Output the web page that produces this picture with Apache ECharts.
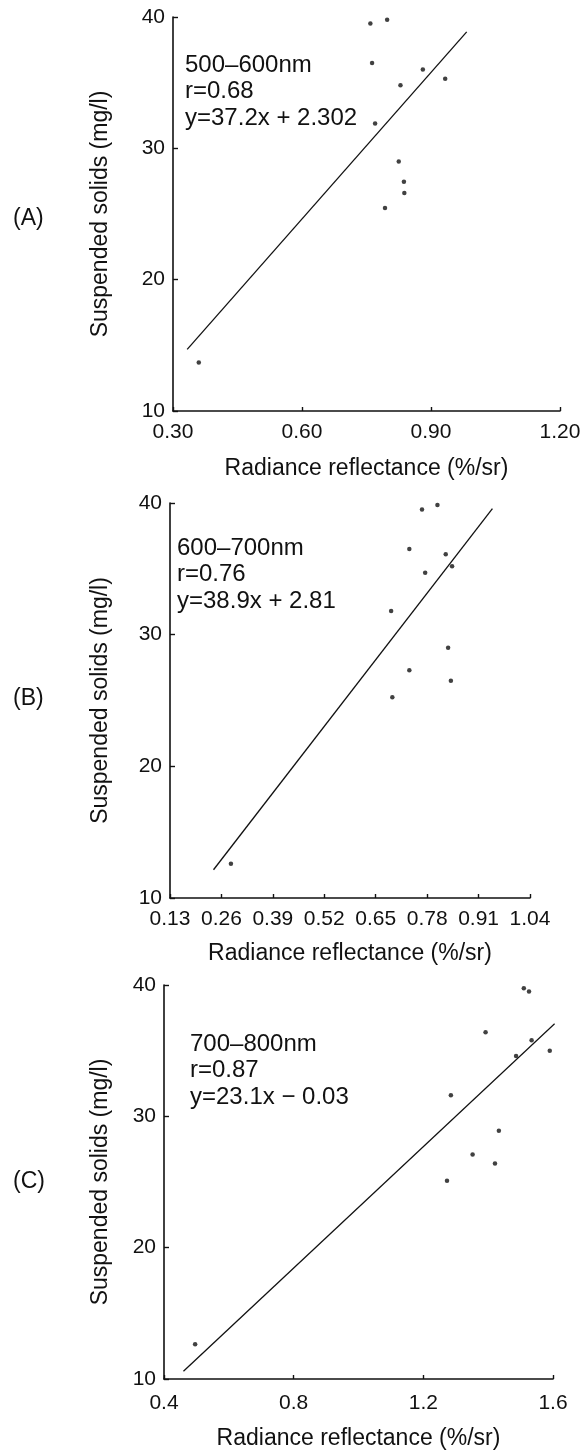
<!DOCTYPE html>
<html>
<head>
<meta charset="utf-8">
<script src="https://cdn.jsdelivr.net/npm/echarts@6/dist/echarts.min.js"></script>
<style>
  html, body { margin: 0; padding: 0; background: #ffffff; }
  #chart { width: 588px; height: 1451px; }
</style>
</head>
<body>
<div id="chart"></div>
<script>
// Panel identifiers and spectral bands
const panelLabels = ['(A)', '(B)', '(C)'];
const bandNames = ['500\u2013600nm', '600\u2013700nm', '700\u2013800nm'];
const rValues = ['0.68', '0.76', '0.87'];

// Least-squares fit for each band: y = slope * x + intercept
const slopes = [37.2, 38.9, 23.1];
const intercepts = [2.302, 2.81, -0.03];
// Reflectance span covered by each fitted line
const fitStart = [0.333, 0.24, 0.46];
const fitEnd = [0.983, 0.945, 1.605];

// Observations: radiance reflectance (%/sr) vs suspended solids (mg/l)
const reflA = [0.759, 0.798, 0.763, 0.881, 0.933, 0.829, 0.770, 0.825, 0.837, 0.838, 0.793, 0.360];
const solidsA = [39.5, 39.8, 36.5, 36.0, 35.3, 34.8, 31.9, 29.0, 27.45, 26.6, 25.45, 13.7];

const reflB = [0.767, 0.806, 0.735, 0.827, 0.843, 0.775, 0.689, 0.833, 0.735, 0.840, 0.692, 0.284];
const solidsB = [39.5, 39.85, 36.5, 36.1, 35.2, 34.7, 31.8, 29.0, 27.3, 26.5, 25.25, 12.6];

const reflC = [1.510, 1.526, 1.392, 1.534, 1.486, 1.590, 1.285, 1.433, 1.352, 1.421, 1.273, 0.496];
const solidsC = [39.75, 39.5, 36.4, 35.8, 34.6, 35.0, 31.6, 28.9, 27.1, 26.4, 25.1, 12.65];

// Axis scales
const xMin = [0.30, 0.13, 0.4];
const xMax = [1.20, 1.04, 1.6];
const xStep = [0.30, 0.13, 0.4];
const xDecimals = [2, 2, 1];
const yMin = 10, yMax = 40, yStep = 10;

const xTitle = 'Radiance reflectance (%/sr)';
const yTitle = 'Suspended solids (mg/l)';

const refl = [reflA, reflB, reflC];
const solids = [solidsA, solidsB, solidsC];

// ---- layout ----
const INK = '#111111';
const FONT = '"Liberation Sans", Arial, Helvetica, sans-serif';
const grids = [
  { left: 173, right: 28, top: 17, bottom: 1040 },
  { left: 170, right: 58, top: 503, bottom: 553 },
  { left: 164, right: 35, top: 985, bottom: 70 }
];
const xNameGap = [46, 44, 48];
const xLabelMargin = [11, 11, 14];
const yNameGap = [61, 58, 52];
const panelLabelY = [220, 700, 1183];
const noteLeft = [185, 177, 190];
const noteTop = [52, 535, 1031];

function equationText(i) {
  const b = intercepts[i];
  return 'y=' + slopes[i] + 'x ' + (b < 0 ? '\u2212' : '+') + ' ' + Math.abs(b);
}

const xAxes = [], yAxes = [], series = [], graphics = [];
for (let i = 0; i < 3; i++) {
  xAxes.push({
    type: 'value', gridIndex: i,
    min: xMin[i], max: xMax[i], interval: xStep[i],
    name: xTitle, nameLocation: 'middle', nameGap: xNameGap[i],
    nameTextStyle: { fontFamily: FONT, fontSize: 23, color: INK },
    axisLine: { show: true, onZero: false, lineStyle: { color: INK, width: 1.6 } },
    axisTick: { show: true, inside: true, length: 4, lineStyle: { color: INK, width: 1.4 } },
    axisLabel: {
      fontFamily: FONT, fontSize: 21, color: INK, margin: xLabelMargin[i],
      formatter: v => Number(v).toFixed(xDecimals[i])
    },
    splitLine: { show: false }
  });
  yAxes.push({
    type: 'value', gridIndex: i,
    min: yMin, max: yMax, interval: yStep,
    name: yTitle, nameLocation: 'middle', nameGap: yNameGap[i], nameRotate: 90,
    nameTextStyle: { fontFamily: FONT, fontSize: 23, color: INK },
    axisLine: { show: true, onZero: false, lineStyle: { color: INK, width: 1.6 } },
    axisTick: { show: true, inside: true, length: 5, lineStyle: { color: INK, width: 1.4 } },
    axisLabel: { fontFamily: FONT, fontSize: 21, color: INK, margin: 8 },
    splitLine: { show: false }
  });
  series.push({
    type: 'scatter', xAxisIndex: i, yAxisIndex: i,
    symbol: 'circle', symbolSize: 4.5,
    itemStyle: { color: INK },
    data: refl[i].map((x, k) => [x, solids[i][k]]),
    silent: true
  });
  series.push({
    type: 'line', xAxisIndex: i, yAxisIndex: i,
    showSymbol: false, symbol: 'none',
    lineStyle: { color: INK, width: 1.3 },
    data: [fitStart[i], fitEnd[i]].map(x => [x, slopes[i] * x + intercepts[i]]),
    silent: true
  });
  graphics.push({
    type: 'text', left: 13, top: panelLabelY[i] - 13,
    style: { text: panelLabels[i], font: '23px ' + FONT, fill: INK }
  });
  graphics.push({
    type: 'text', left: noteLeft[i], top: noteTop[i],
    style: {
      text: [bandNames[i], 'r=' + rValues[i], equationText(i)].join('\n'),
      font: '24px ' + FONT, fill: INK, lineHeight: 26.5
    }
  });
}

const chart = echarts.init(document.getElementById('chart'), null, { renderer: 'canvas' });
chart.setOption({
  backgroundColor: '#ffffff',
  animation: false,
  grid: grids,
  xAxis: xAxes,
  yAxis: yAxes,
  series: series,
  graphic: graphics
});
</script>
</body>
</html>
